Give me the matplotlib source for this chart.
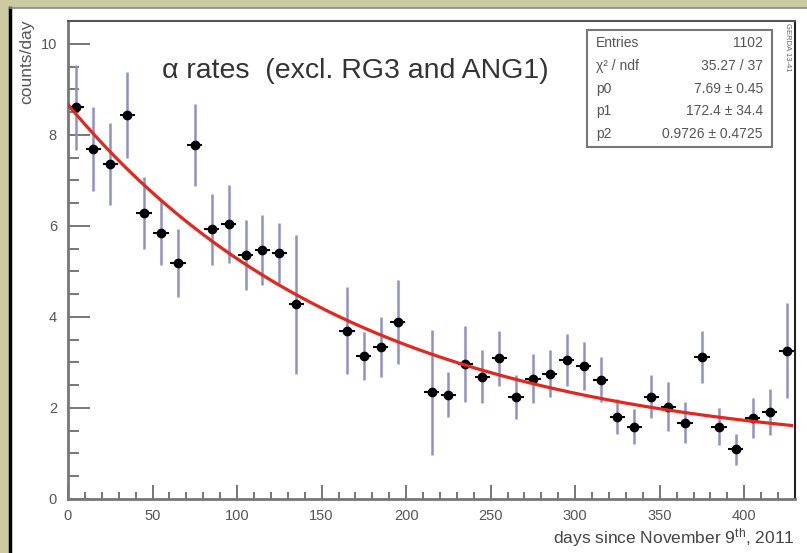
import numpy as np
import matplotlib
matplotlib.use("Agg")
import matplotlib.pyplot as plt
from matplotlib.patches import Rectangle
from matplotlib.lines import Line2D
from matplotlib.ticker import MultipleLocator

plt.rcParams["font.family"] = ["Liberation Sans", "DejaVu Sans"]
plt.rcParams["mathtext.fontset"] = "custom"
plt.rcParams["mathtext.rm"] = "Liberation Sans"
plt.rcParams["mathtext.it"] = "Liberation Sans:italic"

# bin centres (days), rate (counts/day), error
days = [5, 15, 25, 35, 45, 55, 65, 75, 85, 95, 105, 115, 125, 135,
        165, 175, 185, 195, 215, 225, 235, 245, 255, 265, 275, 285,
        295, 305, 315, 325, 335, 345, 355, 365, 375, 385, 395, 405, 415, 425]
rates = [8.60, 7.69, 7.36, 8.44, 6.29, 5.84, 5.18, 7.78, 5.93, 6.04, 5.36, 5.46, 5.41, 4.28,
         3.70, 3.14, 3.33, 3.89, 2.34, 2.29, 2.96, 2.69, 3.09, 2.24, 2.64, 2.75,
         3.05, 2.92, 2.62, 1.81, 1.59, 2.25, 2.03, 1.68, 3.11, 1.59, 1.09, 1.77, 1.91, 3.26]
errors = [0.94, 0.93, 0.90, 0.94, 0.79, 0.70, 0.75, 0.90, 0.78, 0.85, 0.77, 0.77, 0.66, 1.53,
          0.95, 0.53, 0.66, 0.92, 1.37, 0.49, 0.84, 0.59, 0.60, 0.48, 0.54, 0.52,
          0.57, 0.52, 0.50, 0.39, 0.39, 0.48, 0.53, 0.45, 0.57, 0.40, 0.34, 0.44, 0.50, 1.05]
bin_half = 4.5

# fit parameters: f(x) = p0 * exp(-x / p1) + p2
p0, p1, p2 = 7.69, 172.4, 0.9726
stats_rows = [("Entries", "1102"),
              ("\u03c7\u00b2 / ndf", "35.27 / 37"),
              ("p0", "7.69 \u00b1 0.45"),
              ("p1", "172.4 \u00b1 34.4"),
              ("p2", "0.9726 \u00b1 0.4725")]

W, H = 807, 553
fig = plt.figure(figsize=(W / 100, H / 100), dpi=100, facecolor="#cdc9a1")

# white canvas with black left edge
fig.patches.append(Rectangle((11 / W, 0), 1 - 11 / W, 1 - 8 / H, transform=fig.transFigure,
                             facecolor="white", edgecolor="none", zorder=-1))
fig.lines.append(Line2D([10 / W, 10 / W], [0, 1 - 8 / H], transform=fig.transFigure,
                        color="black", lw=2.5))
fig.lines.append(Line2D([10 / W, 1], [1 - 8 / H, 1 - 8 / H], transform=fig.transFigure,
                        color="#888888", lw=1.2))

ax = fig.add_axes([68 / W, 1 - 499 / H, (795 - 68) / W, (499 - 21) / H])
ax.set_zorder(1)
ax.set_facecolor("white")

x = np.array(days)
y = np.array(rates)
e = np.array(errors)

ax.errorbar(x, y, yerr=e, fmt="none", ecolor="#9090c8", elinewidth=1.8, capsize=0, zorder=2)
ax.errorbar(x, y, xerr=bin_half, fmt="o", color="black", ms=6, elinewidth=1.5,
            capsize=0, zorder=3)

xf = np.linspace(0, 428, 300)
ax.plot(xf, p0 * np.exp(-xf / p1) + p2, color="#e0281e", lw=2.3, zorder=4)

ax.set_xlim(0, 430)
ax.set_ylim(0, 10.5)
ax.xaxis.set_major_locator(MultipleLocator(50))
ax.xaxis.set_minor_locator(MultipleLocator(10))
ax.yaxis.set_major_locator(MultipleLocator(2))
ax.yaxis.set_minor_locator(MultipleLocator(0.5))
ax.set_xticks([0, 50, 100, 150, 200, 250, 300, 350, 400])

ax.tick_params(axis="both", which="both", direction="in", colors="#777777",
               labelcolor="#555555", labelsize=10.5, width=1.4, top=False, right=False)
ax.tick_params(axis="y", which="major", length=16, pad=8)
ax.tick_params(axis="y", which="minor", length=8)
ax.tick_params(axis="x", which="major", length=10, pad=7)
ax.tick_params(axis="x", which="minor", length=5)

for side in ("left", "bottom"):
    ax.spines[side].set_color("#777777")
    ax.spines[side].set_linewidth(2)
ax.spines["top"].set_color("#555555")
ax.spines["top"].set_linewidth(1.5)
ax.spines["right"].set_color("#222222")
ax.spines["right"].set_linewidth(1.5)

ax.text((162 - 68) / 727, (499 - 78) / 478, "\u03b1 rates  (excl. RG3 and ANG1)",
        transform=ax.transAxes, fontsize=20.5, color="#333333", va="baseline", ha="left")

# stats box
bx0, by0, bx1, by1 = 587, 30, 772, 147
fig.patches.append(Rectangle((bx0 / W, 1 - by1 / H), (bx1 - bx0) / W, (by1 - by0) / H,
                             transform=fig.transFigure, facecolor="white",
                             edgecolor="#777777", lw=1.5, zorder=5))
row_y = [43, 66, 89, 111, 134]
for (lab, val), ry in zip(stats_rows, row_y):
    fig.text(596 / W, 1 - ry / H, lab, fontsize=10, color="#555555", va="center", ha="left",
             zorder=6)
    fig.text(763 / W, 1 - ry / H, val, fontsize=10, color="#555555", va="center", ha="right",
             zorder=6)

fig.text(787 / W, 1 - 23 / H, "GERDA 13-41", fontsize=5.5, color="#666666", rotation=-90,
         va="top", ha="center", zorder=6)

fig.text(795 / W, 1 - 538 / H, r"days since November 9$^{\rm th}$, 2011", fontsize=12.5,
         color="#444444", ha="right", va="center")
fig.text(27 / W, 1 - 19 / H, "counts/day", fontsize=12.5, color="#555555", rotation=90,
         ha="center", va="top")

fig.savefig("out.png", dpi=100, facecolor=fig.get_facecolor())
